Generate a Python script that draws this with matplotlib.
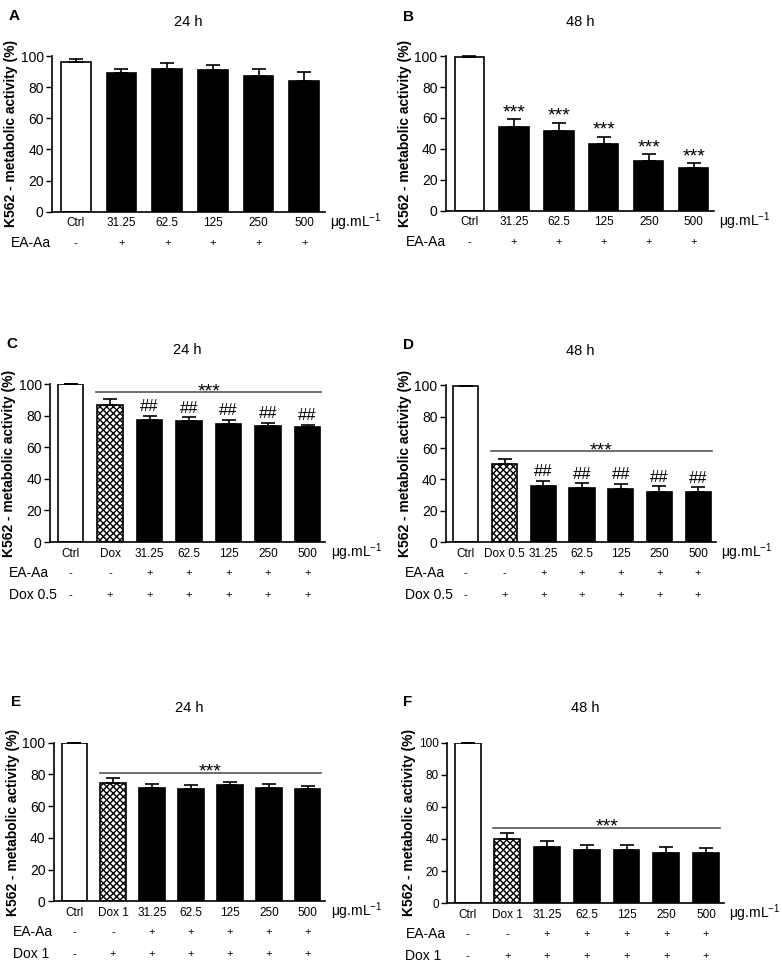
import matplotlib
matplotlib.use("Agg")
import matplotlib.pyplot as plt
from matplotlib.transforms import blended_transform_factory

plt.rcParams['font.family'] = ['Liberation Sans', 'DejaVu Sans']
plt.rcParams['mathtext.default'] = 'regular'
plt.rcParams['hatch.linewidth'] = 1.0

# data
labels_ab = ['Ctrl', '31.25', '62.5', '125', '250', '500']
a_vals = [96.5, 89, 92, 91, 87.5, 84]
a_err = [1.5, 3, 3.5, 3, 4.5, 5.5]
b_vals = [99.5, 54, 51.5, 43, 32, 27.5]
b_err = [0.3, 5.5, 5.5, 5, 4.5, 3.5]

labels_c = ['Ctrl', 'Dox', '31.25', '62.5', '125', '250', '500']
c_vals = [100, 87, 77.5, 77, 75, 73.5, 73]
c_err = [0, 4, 2.5, 2, 2.5, 2, 1.5]

labels_d = ['Ctrl', 'Dox 0.5', '31.25', '62.5', '125', '250', '500']
d_vals = [99.5, 50, 36, 34.5, 34, 32, 32]
d_err = [0.4, 3, 3, 3, 3, 3.5, 3]

labels_ef = ['Ctrl', 'Dox 1', '31.25', '62.5', '125', '250', '500']
e_vals = [100, 74.5, 71.5, 71, 73, 71.5, 71]
e_err = [0, 3.5, 2.5, 2.5, 2.5, 2.5, 1.5]
f_vals = [99.5, 40, 35, 33, 33, 31.5, 31]
f_err = [0.4, 3.5, 3.5, 3, 3, 3.5, 3.5]

ea_ab = ['-', '+', '+', '+', '+', '+']
ea_7 = ['-', '-', '+', '+', '+', '+', '+']
dox_7 = ['-', '+', '+', '+', '+', '+', '+']

fig = plt.figure(figsize=(7.82, 9.67), dpi=100)


def panel(rect, letter, title, labels, vals, errs, rows, stars=None, hashes=False,
          bar_y=None, tick_fs=10):
    ax = fig.add_axes(rect)
    n = len(vals)
    x = list(range(n))
    for i in x:
        if i == 0:
            ax.bar(i, vals[i], width=0.65, color='white', edgecolor='black', lw=1.2)
        elif n == 7 and i == 1:
            ax.bar(i, vals[i], width=0.65, color='white', edgecolor='black',
                   hatch='xxxxx', lw=1.2)
        else:
            ax.bar(i, vals[i], width=0.65, color='black', edgecolor='black', lw=1.2)
    ax.errorbar(x, vals, yerr=[[0] * n, errs], fmt='none', ecolor='black',
                elinewidth=1.2, capsize=5, capthick=1.2, clip_on=False)
    ax.set_xlim(-0.52, n - 0.55)
    ax.set_ylim(0, 100)
    ax.set_yticks([0, 20, 40, 60, 80, 100])
    ax.tick_params(axis='y', labelsize=tick_fs, length=4, width=1, pad=2)
    ax.tick_params(axis='x', length=0, labelsize=8.5, pad=4)
    ax.set_xticks(x)
    ax.set_xticklabels(labels)
    for s in ['top', 'right']:
        ax.spines[s].set_visible(False)
    for s in ['left', 'bottom']:
        ax.spines[s].set_linewidth(1.2)
    ax.set_ylabel('K562 - metabolic activity (%)', fontsize=10, fontweight='bold',
                  labelpad=2)
    ax.set_title(title, fontsize=10.5, pad=22)
    ax.text(-0.16, 1.21, letter, transform=ax.transAxes, fontsize=11,
            fontweight='bold', va='bottom')
    ax.text(1.02, -0.065, 'μg.mL$^{-1}$', transform=ax.transAxes, fontsize=10,
            ha='left', va='center')

    tr = blended_transform_factory(ax.transData, ax.transAxes)
    h = rect[3] * 967
    for r, (name, marks) in enumerate(rows):
        yy = -(31 + 22 * r) / h
        ax.text(-0.15, yy, name, transform=ax.transAxes, fontsize=10,
                ha='left', va='center')
        for i, m in enumerate(marks):
            ax.text(i, yy, m, transform=tr, fontsize=8, ha='center', va='center')

    if stars == 'each':
        for i in x[1:]:
            ax.text(i, vals[i] + errs[i] - 1.5, '***', fontsize=14,
                    ha='center', va='bottom')
    if hashes:
        for i in x[2:]:
            ax.text(i, vals[i] + errs[i] + 1, '##', fontsize=12,
                    ha='center', va='bottom')
    if bar_y is not None:
        ax.plot([0.65, n - 0.65], [bar_y, bar_y], color='#555555', lw=1.2,
                clip_on=False)
        ax.text((0.65 + n - 0.65) / 2, bar_y - 5, '***', fontsize=14,
                ha='center', va='bottom')
    return ax


panel([0.0665, 0.781, 0.349, 0.161], 'A', '24 h', labels_ab, a_vals, a_err,
      [('EA-Aa', ea_ab)])
panel([0.570, 0.782, 0.343, 0.160], 'B', '48 h', labels_ab, b_vals, b_err,
      [('EA-Aa', ea_ab)], stars='each')
panel([0.064, 0.4395, 0.352, 0.163], 'C', '24 h', labels_c, c_vals, c_err,
      [('EA-Aa', ea_7), ('Dox 0.5', dox_7)], hashes=True, bar_y=95)
panel([0.570, 0.4395, 0.345, 0.162], 'D', '48 h', labels_d, d_vals, d_err,
      [('EA-Aa', ea_7), ('Dox 0.5', dox_7)], hashes=True, bar_y=58)
panel([0.069, 0.068, 0.347, 0.164], 'E', '24 h', labels_ef, e_vals, e_err,
      [('EA-Aa', ea_7), ('Dox 1', dox_7)], bar_y=81)
panel([0.5716, 0.066, 0.354, 0.166], 'F', '48 h', labels_ef, f_vals, f_err,
      [('EA-Aa', ea_7), ('Dox 1', dox_7)], bar_y=47, tick_fs=8.5)

fig.savefig('out.png', dpi=100)
